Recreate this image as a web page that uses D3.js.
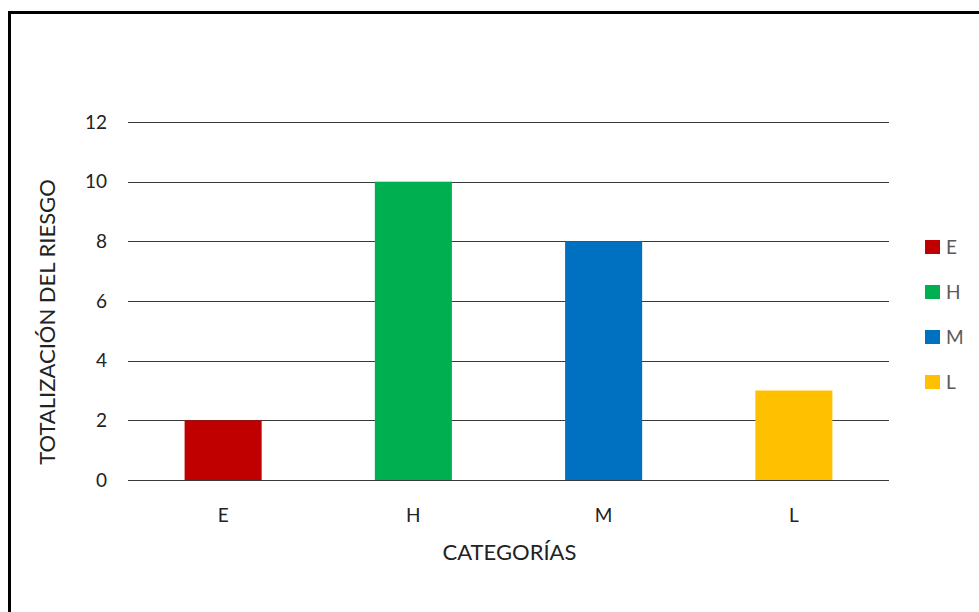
<!DOCTYPE html>
<html>
<head>
<meta charset="utf-8">
<script src="https://cdn.jsdelivr.net/npm/d3@7"></script>
<style>
  body { margin: 0; background: #fff; }
  svg { display: block; font-family: Lato, "Open Sans", sans-serif; }
</style>
</head>
<body>
<svg width="979" height="612"></svg>
<script>
var categories = ["E", "H", "M", "L"];
var values = [2, 10, 8, 3];
var colors = ["#C00000", "#00B050", "#0070C0", "#FFC000"];
var yTicks = [0, 2, 4, 6, 8, 10, 12];

var svg = d3.select("svg"),
	plotLeft = 128,
	plotRight = 889,
	plotTop = 122,
	plotBottom = 480;

// outer frame (only top and left edges visible in the picture)
svg.append("path")
	.attr("d", "M 9.5,612 L 9.5,12.5 L 979,12.5")
	.attr("fill", "none")
	.attr("stroke", "#000")
	.attr("stroke-width", 3);

var x = d3.scaleBand()
	.domain(categories)
	.range([plotLeft, plotRight])
	.paddingInner(0.595)
	.paddingOuter(0.2975);

var y = d3.scaleLinear()
	.domain([0, 12])
	.range([plotBottom, plotTop]);

// gridlines
svg.append("g")
	.selectAll("line")
	.data(yTicks)
	.enter()
	.append("line")
	.attr("x1", plotLeft)
	.attr("x2", plotRight)
	.attr("y1", (d) => Math.round(y(d)) + 0.5)
	.attr("y2", (d) => Math.round(y(d)) + 0.5)
	.attr("stroke", "#3a3a3a")
	.attr("stroke-width", 1);

// y tick labels
svg.append("g")
	.selectAll("text")
	.data(yTicks)
	.enter()
	.append("text")
	.attr("x", 107)
	.attr("y", (d) => y(d))
	.attr("dy", "0.35em")
	.attr("text-anchor", "end")
	.attr("font-size", 19)
	.attr("fill", "#222")
	.text((d) => d);

// bars
svg.append("g")
	.selectAll("rect")
	.data(values)
	.enter()
	.append("rect")
	.attr("x", (d, i) => x(categories[i]))
	.attr("y", (d) => y(d))
	.attr("width", x.bandwidth())
	.attr("height", (d) => y(0) - y(d))
	.attr("fill", (d, i) => colors[i]);

// x tick labels
svg.append("g")
	.selectAll("text")
	.data(categories)
	.enter()
	.append("text")
	.attr("x", (d) => x(d) + x.bandwidth() / 2)
	.attr("y", 515)
	.attr("dy", "0.35em")
	.attr("text-anchor", "middle")
	.attr("font-size", 19)
	.attr("fill", "#222")
	.text((d) => d);

// axis titles
svg.append("text")
	.attr("x", (plotLeft + plotRight) / 2 + 1)
	.attr("y", 552)
	.attr("dy", "0.35em")
	.attr("text-anchor", "middle")
	.attr("font-size", 22)
	.attr("fill", "#222")
	.text("CATEGORÍAS");

svg.append("text")
	.attr("transform", "translate(47," + 322 + ") rotate(-90)")
	.attr("dy", "0.35em")
	.attr("text-anchor", "middle")
	.attr("font-size", 22)
	.attr("fill", "#222")
	.text("TOTALIZACIÓN DEL RIESGO");

// legend
var legend = svg.append("g")
	.selectAll("g")
	.data(categories)
	.enter()
	.append("g")
	.attr("transform", (d, i) => "translate(925," + (247 + i * 45) + ")");

legend.append("rect")
	.attr("x", 0)
	.attr("y", -7)
	.attr("width", 15)
	.attr("height", 14)
	.attr("fill", (d, i) => colors[i]);

legend.append("text")
	.attr("x", 21)
	.attr("dy", "0.35em")
	.attr("font-size", 19)
	.attr("fill", "#595959")
	.text((d) => d);
</script>
</body>
</html>
